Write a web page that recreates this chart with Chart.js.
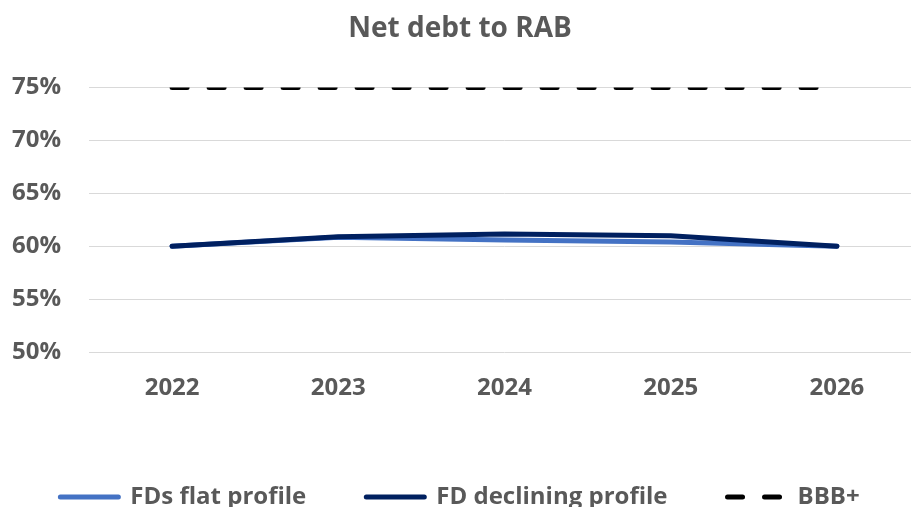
<!DOCTYPE html>
<html>
<head>
<meta charset="utf-8">
<script src="https://cdn.jsdelivr.net/npm/chart.js"></script>
<style>
  html, body { margin: 0; padding: 0; background: #fff; overflow: hidden; }
  #wrap { width: 920px; height: 519px; position: relative; }
</style>
</head>
<body>
<div id="wrap"><canvas id="chart"></canvas></div>
<script>
const years = ['2022', '2023', '2024', '2025', '2026'];
const flatProfile = [60, 60.85, 60.6, 60.4, 60];
const decliningProfile = [60, 60.9, 61.15, 61.0, 60];
const bbbPlus = [75, 75, 75, 75, 75];
const yTicks = [50, 55, 60, 65, 70, 75];

const grey = '#595959';
const font = { family: "'Open Sans', sans-serif", weight: 'bold', size: 24 };

function legendLabels(chart) {
  const base = Chart.defaults.plugins.legend.labels.generateLabels(chart);
  return base.map((item) => {
    const ds = chart.data.datasets[item.datasetIndex];
    return {
      ...item,
      strokeStyle: ds.borderColor,
      fillStyle: ds.borderColor,
      lineWidth: 5,
      lineCap: 'round',
      lineDash: ds.borderDash || [],
    };
  });
}

new Chart(document.getElementById('chart'), {
  type: 'line',
  data: {
    labels: years,
    datasets: [
      {
        label: 'FDs flat profile',
        data: flatProfile,
        borderColor: '#4472c4',
        backgroundColor: '#4472c4',
        borderWidth: 5,
        borderCapStyle: 'round',
        borderJoinStyle: 'round',
        pointRadius: 0,
        order: 2,
      },
      {
        label: 'FD declining profile',
        data: decliningProfile,
        borderColor: '#002060',
        backgroundColor: '#002060',
        borderWidth: 5,
        borderCapStyle: 'round',
        borderJoinStyle: 'round',
        pointRadius: 0,
        order: 1,
      },
      {
        label: 'BBB+',
        data: bbbPlus,
        borderColor: '#000000',
        backgroundColor: '#000000',
        borderWidth: 5,
        borderDash: [15, 22],
        borderCapStyle: 'round',
        pointRadius: 0,
        order: 0,
      },
    ],
  },
  options: {
    responsive: true,
    maintainAspectRatio: false,
    animation: false,
    layout: { padding: 0 },
    plugins: {
      title: {
        display: true,
        text: 'Net debt to RAB',
        color: grey,
        font: { ...font, size: 28 },
        padding: { top: 12, bottom: 42 },
      },
      legend: {
        position: 'bottom',
        labels: {
          color: grey,
          font: font,
          usePointStyle: true,
          pointStyle: 'line',
          pointStyleWidth: 58,
          padding: 60,
          generateLabels: legendLabels,
          sort: (a, b) => a.datasetIndex - b.datasetIndex,
        },
      },
      tooltip: { enabled: false },
    },
    scales: {
      x: {
        offset: true,
        grid: { display: false, drawTicks: false },
        border: { display: false },
        ticks: { color: grey, font: font, padding: 22 },
        afterFit: (s) => { s.height = 73; },
      },
      y: {
        min: 50,
        max: 75,
        afterBuildTicks: (s) => { s.ticks = yTicks.map((v) => ({ value: v })); },
        grid: { color: '#d9d9d9', lineWidth: 1, drawTicks: false },
        border: { display: false },
        ticks: { color: grey, font: font, padding: 28, callback: (v) => v + '%' },
        afterFit: (s) => { s.width = 89; },
      },
    },
  },
});
</script>
</body>
</html>
